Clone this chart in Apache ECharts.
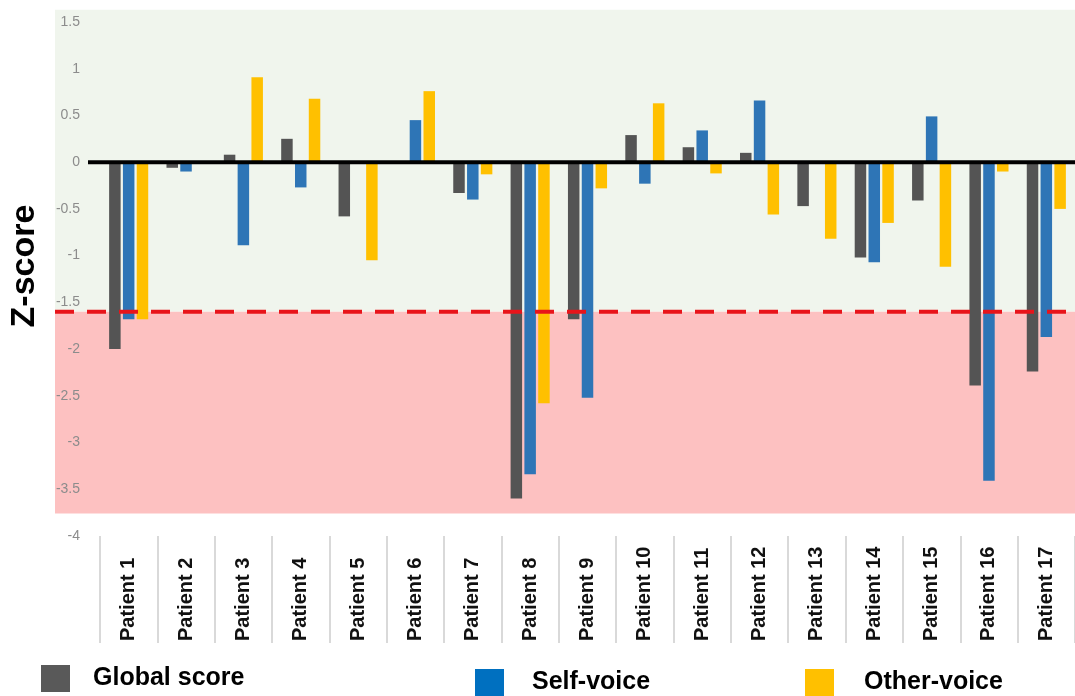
<!DOCTYPE html>
<html>
<head>
<meta charset="utf-8">
<script src="https://cdn.jsdelivr.net/npm/echarts@6/dist/echarts.min.js"></script>
<style>
html,body{margin:0;padding:0;background:#ffffff;}
#chart{width:1075px;height:696px;}
</style>
</head>
<body>
<div id="chart"></div>
<script>
// ---- data ----
const categories = ['Patient 1','Patient 2','Patient 3','Patient 4','Patient 5','Patient 6','Patient 7','Patient 8','Patient 9','Patient 10','Patient 11','Patient 12','Patient 13','Patient 14','Patient 15','Patient 16','Patient 17'];
const globalScore = [-2.00, -0.06, 0.08, 0.25, -0.58, 0, -0.33, -3.60, -1.68, 0.29, 0.16, 0.10, -0.47, -1.02, -0.41, -2.39, -2.24];
const selfVoice   = [-1.68, -0.10, -0.89, -0.27, 0, 0.45, -0.40, -3.34, -2.52, -0.23, 0.34, 0.66, 0, -1.07, 0.49, -3.41, -1.87];
const otherVoice  = [-1.68, 0, 0.91, 0.68, -1.05, 0.76, -0.13, -2.58, -0.28, 0.63, -0.12, -0.56, -0.82, -0.65, -1.12, -0.10, -0.50];
const yMin = -4, yMax = 1.5, yStep = 0.5;
const threshold = -1.6;
const normalBand = [1.63, -1.6];
const impairedBand = [-1.6, -3.76];
const seriesNames = ['Global score', 'Self-voice', 'Other-voice'];

const chart = echarts.init(document.getElementById('chart'), null, {renderer: 'canvas'});

const barCommon = {
  type: 'bar',
  barWidth: 11.5,
  barGap: '20%',
  z: 3
};

const legendText = {
  fontFamily: 'Liberation Sans',
  fontSize: 25,
  fontWeight: 'bold',
  color: '#000'
};

chart.setOption({
  animation: false,
  grid: {left: 97, right: -4, top: 22, bottom: 160, containLabel: false},
  xAxis: {
    type: 'category',
    data: categories,
    axisLine: {show: false, onZero: false},
    axisTick: {show: true, length: 107, lineStyle: {color: '#d9d9d9', width: 2}},
    axisLabel: {
      rotate: 90,
      align: 'left',
      verticalAlign: 'middle',
      margin: 105,
      interval: 0,
      fontFamily: 'Liberation Sans',
      fontSize: 20,
      fontWeight: 'bold',
      color: '#111'
    },
    splitLine: {show: false}
  },
  yAxis: {
    type: 'value',
    min: yMin,
    max: yMax,
    interval: yStep,
    axisLine: {show: false},
    axisTick: {show: false},
    splitLine: {show: false},
    axisLabel: {
      margin: 20,
      fontFamily: 'Liberation Sans',
      fontSize: 14,
      color: '#8c8c8c'
    },
    name: 'Z-score',
    nameLocation: 'middle',
    nameGap: 58,
    nameRotate: 90,
    nameTextStyle: {
      fontFamily: 'Liberation Sans',
      fontSize: 34,
      fontWeight: 'bold',
      color: '#000',
      padding: [0, 0, 0, 26]
    }
  },
  legend: [
    {data: [{name: seriesNames[0], itemStyle: {color: '#595959'}}], left: 41, top: 665, padding: 0,
     itemWidth: 29, itemHeight: 27, icon: 'rect', textStyle: Object.assign({padding: [0, 0, 0, 18]}, legendText), selectedMode: false},
    {data: [{name: seriesNames[1], itemStyle: {color: '#0070C0'}}], left: 475, top: 669, padding: 0,
     itemWidth: 29, itemHeight: 27, icon: 'rect', textStyle: Object.assign({padding: [0, 0, 0, 23]}, legendText), selectedMode: false},
    {data: [{name: seriesNames[2], itemStyle: {color: '#FFC000'}}], left: 805, top: 669, padding: 0,
     itemWidth: 29, itemHeight: 27, icon: 'rect', textStyle: Object.assign({padding: [0, 0, 0, 25]}, legendText), selectedMode: false}
  ],
  series: [
    Object.assign({name: seriesNames[0], data: globalScore, itemStyle: {color: '#545454'}}, barCommon),
    Object.assign({name: seriesNames[1], data: selfVoice, itemStyle: {color: '#2E75B6'}}, barCommon),
    Object.assign({name: seriesNames[2], data: otherVoice, itemStyle: {color: '#FFC000'}}, barCommon)
  ]
});

// Background bands and reference lines positioned through the y-axis scale
const py = v => chart.convertToPixel({yAxisIndex: 0}, v);
const W = chart.getWidth();
const bandLeft = 55;
const zeroLeft = 88;
chart.setOption({
  graphic: [
    {type: 'rect', z: -10, silent: true,
     shape: {x: bandLeft, y: py(normalBand[0]), width: W - bandLeft, height: py(normalBand[1]) - py(normalBand[0])},
     style: {fill: '#f0f5ed'}},
    {type: 'rect', z: -10, silent: true,
     shape: {x: bandLeft, y: py(impairedBand[0]), width: W - bandLeft, height: py(impairedBand[1]) - py(impairedBand[0])},
     style: {fill: '#fdc1c1'}},
    {type: 'line', z: 10, silent: true,
     shape: {x1: bandLeft, y1: py(threshold), x2: W, y2: py(threshold)},
     style: {stroke: '#e8141a', lineWidth: 4, lineDash: [19, 13]}},
    {type: 'line', z: 10, silent: true,
     shape: {x1: zeroLeft, y1: py(0), x2: W, y2: py(0)},
     style: {stroke: '#000', lineWidth: 4}}
  ]
});
</script>
</body>
</html>
